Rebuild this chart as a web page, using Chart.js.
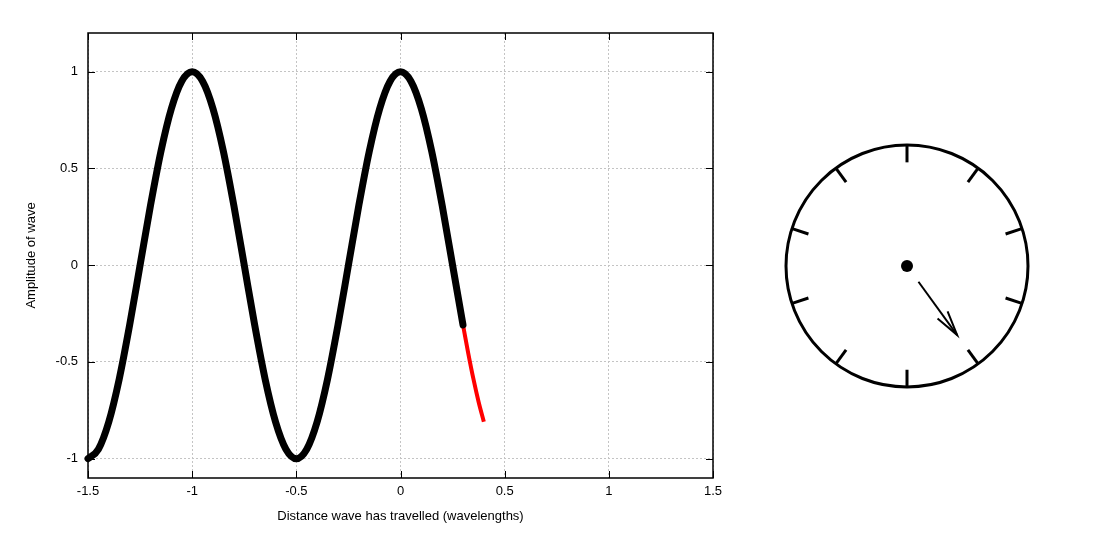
<!DOCTYPE html>
<html>
<head>
<meta charset="utf-8">
<script src="https://cdn.jsdelivr.net/npm/chart.js@4.4.1/dist/chart.umd.min.js"></script>
<style>
	html, body { margin: 0; padding: 0; background: #fff; }
	#wrap { position: relative; width: 1119px; height: 534px; }
	#waveBox { position: absolute; left: 0; top: 0; width: 1119px; height: 534px; }
	#clockBox { position: absolute; left: 757px; top: 116px; width: 300px; height: 300px; }
</style>
</head>
<body>
<div id="wrap">
	<div id="waveBox"><canvas id="waveChart"></canvas></div>
	<div id="clockBox"><canvas id="clockChart"></canvas></div>
</div>
<script>
// data
const waveX = [-1.5, -1.45, -1.4, -1.35, -1.3, -1.25, -1.2, -1.15, -1.1, -1.05, -1, -0.95, -0.9, -0.85, -0.8, -0.75, -0.7, -0.65, -0.6, -0.55, -0.5, -0.45, -0.4, -0.35, -0.3, -0.25, -0.2, -0.15, -0.1, -0.05, 0, 0.05, 0.1, 0.15, 0.2, 0.25, 0.3];
const waveY = [-1, -0.951, -0.809, -0.588, -0.309, 0, 0.309, 0.588, 0.809, 0.951, 1, 0.951, 0.809, 0.588, 0.309, 0, -0.309, -0.588, -0.809, -0.951, -1, -0.951, -0.809, -0.588, -0.309, 0, 0.309, 0.588, 0.809, 0.951, 1, 0.951, 0.809, 0.588, 0.309, 0, -0.309];
// leading part of the wave (red)
const frontX = [0.3, 0.325, 0.35, 0.375, 0.4];
const frontY = [-0.309, -0.454, -0.588, -0.707, -0.809];

const xTicks = [-1.5, -1, -0.5, 0, 0.5, 1, 1.5];
const yTicks = [-1, -0.5, 0, 0.5, 1];

// clock face
const dialAngles = [0, 36, 72, 108, 144, 180, 216, 252, 288, 324];
const phase = 0.4; // wavelengths travelled -> hand position

Chart.defaults.font.family = '"Liberation Sans", Arial, sans-serif';
Chart.defaults.font.size = 13;
Chart.defaults.color = '#000';

const toPoints = (xs, ys) => xs.map((x, i) => ({ x: x, y: ys[i] }));

// frame + inward tick marks like the original plot
const frameTicks = {
	id: 'frameTicks',
	beforeDatasetsDraw(chart) {
		const { ctx, chartArea: a, scales: { x, y } } = chart;
		ctx.save();
		ctx.strokeStyle = '#000';
		ctx.lineWidth = 1;
		ctx.beginPath();
		xTicks.forEach(v => {
			const px = Math.round(x.getPixelForValue(v)) + 0.5;
			ctx.moveTo(px, a.bottom); ctx.lineTo(px, a.bottom - 7);
			ctx.moveTo(px, a.top); ctx.lineTo(px, a.top + 7);
		});
		yTicks.forEach(v => {
			const py = Math.round(y.getPixelForValue(v)) + 0.5;
			ctx.moveTo(a.left, py); ctx.lineTo(a.left + 7, py);
			ctx.moveTo(a.right, py); ctx.lineTo(a.right - 7, py);
		});
		ctx.stroke();
		ctx.lineWidth = 1.5;
		ctx.strokeRect(a.left, a.top, a.right - a.left, a.bottom - a.top);
		ctx.restore();
	}
};

new Chart(document.getElementById('waveChart'), {
	type: 'line',
	data: {
		datasets: [
			{
				data: toPoints(waveX, waveY),
				borderColor: '#000',
				borderWidth: 7,
				borderCapStyle: 'round',
				borderJoinStyle: 'round',
				cubicInterpolationMode: 'monotone',
				pointRadius: 0,
				clip: 6,
			},
			{
				data: toPoints(frontX, frontY),
				borderColor: '#ff0000',
				borderWidth: 4,
				cubicInterpolationMode: 'monotone',
				pointRadius: 0,
				clip: 6,
			}
		]
	},
	options: {
		responsive: true,
		maintainAspectRatio: false,
		animation: false,
		events: [],
		layout: { padding: { top: 33, right: 406, left: 0, bottom: 0 } },
		plugins: { legend: { display: false }, tooltip: { enabled: false } },
		scales: {
			x: {
				type: 'linear',
				min: -1.5,
				max: 1.5,
				afterBuildTicks: s => { s.ticks = xTicks.map(v => ({ value: v })); },
				afterFit: s => { s.height = 56; },
				ticks: { padding: 6, maxRotation: 0, callback: v => String(v) },
				grid: { color: '#c4c4c4', lineWidth: 1, drawTicks: false },
				border: { display: false, dash: [2, 2] },
				title: { display: true, text: 'Distance wave has travelled (wavelengths)', padding: { top: 0, bottom: 10 } }
			},
			y: {
				min: -1.1,
				max: 1.2,
				afterBuildTicks: s => { s.ticks = yTicks.map(v => ({ value: v })); },
				afterFit: s => { s.width = 88; },
				ticks: { padding: 10, callback: v => String(v) },
				grid: { color: '#c4c4c4', lineWidth: 1, drawTicks: false },
				border: { display: false, dash: [2, 2] },
				title: { display: true, text: 'Amplitude of wave', padding: { top: 24, bottom: 0 } }
			}
		}
	},
	plugins: [frameTicks]
});

// clock
const rad = d => d * Math.PI / 180;
const polar = (r, deg) => ({ x: r * Math.sin(rad(deg)), y: r * Math.cos(rad(deg)) });
const handDeg = phase * 360;
const tip = polar(0.70, handDeg);
const barb = side => {
	const b = polar(0.21, handDeg + 180 + side * 14);
	return { x: tip.x + b.x, y: tip.y + b.y };
};

const lineSet = (pts, w) => ({
	data: pts,
	showLine: true,
	borderColor: '#000',
	borderWidth: w,
	pointRadius: 0,
	borderCapStyle: 'butt',
	clip: false,
});

const clockSets = [
	{ data: [{ x: 0, y: 0 }], pointRadius: 121, pointBorderWidth: 3, pointBorderColor: '#000', pointBackgroundColor: 'rgba(0,0,0,0)', clip: false },
	...dialAngles.map(a => lineSet([polar(0.85, a), polar(0.99, a)], 3)),
	lineSet([polar(0.16, handDeg), tip], 2),
	lineSet([barb(-1), tip, barb(1)], 2),
	{ data: [{ x: 0, y: 0 }], pointRadius: 6, pointBorderWidth: 0, pointBackgroundColor: '#000' },
];

new Chart(document.getElementById('clockChart'), {
	type: 'scatter',
	data: { datasets: clockSets },
	options: {
		responsive: true,
		maintainAspectRatio: false,
		animation: false,
		events: [],
		layout: { padding: 0, autoPadding: false },
		plugins: { legend: { display: false }, tooltip: { enabled: false } },
		scales: {
			x: { min: -1.23, max: 1.23, display: false },
			y: { min: -1.23, max: 1.23, display: false }
		}
	}
});
</script>
</body>
</html>
